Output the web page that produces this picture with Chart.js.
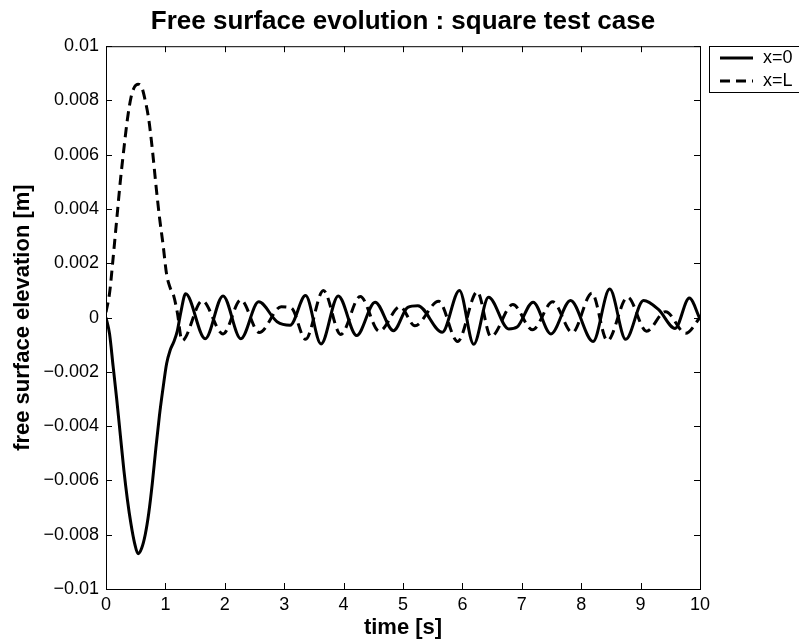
<!DOCTYPE html>
<html>
<head>
<meta charset="utf-8">
<title>Free surface evolution</title>
<script src="https://cdn.jsdelivr.net/npm/chart.js@4.4.1/dist/chart.umd.min.js"></script>
<style>
    html, body { margin: 0; padding: 0; background: #fff; }
    #wrap { width: 799px; height: 644px; }
</style>
</head>
<body>
<div id="wrap"><canvas id="surfaceChart" width="799" height="644"></canvas></div>
<script>
// =============================================
// Data
// =============================================

// free surface at x=0 (solid)
const tLeft = [0, 0.06, 0.12, 0.18, 0.24, 0.30, 0.36, 0.42, 0.48, 0.54, 0.60, 0.66, 0.72, 0.78,
    0.84, 0.90, 0.96, 1.02, 1.08, 1.14, 1.20, 1.26, 1.34, 1.67, 1.97, 2.27, 2.57, 2.88, 3.10,
    3.36, 3.62, 3.91, 4.22, 4.53, 4.84, 5.08, 5.25, 5.66, 5.95, 6.19, 6.44, 6.78, 6.92, 7.19,
    7.49, 7.82, 8.20, 8.48, 8.75, 9.05, 9.30, 9.58, 9.82, 10.0];
const etaLeft = [0, -0.0006, -0.0018, -0.0030, -0.0043, -0.0056, -0.0067, -0.0076, -0.0083, -0.0087,
    -0.0085, -0.0080, -0.0072, -0.0061, -0.0048, -0.0036, -0.0026, -0.0017, -0.0012, -0.0009,
    -0.0005, 0.0002, 0.00088, -0.00078, 0.00080, -0.00078, 0.00058, -0.00015, -0.00028,
    0.00081, -0.00097, 0.00080, -0.00066, 0.00057, -0.00048, 0.00038, 0.00044, -0.00054,
    0.00100, -0.00098, 0.00075, -0.00042, -0.00035, 0.00057, -0.00060, 0.00063, -0.00088,
    0.00105, -0.00080, 0.00063, 0.00030, -0.00040, 0.00072, -0.00005];

// free surface at x=L (dashed)
const tRight = [0, 0.06, 0.12, 0.18, 0.24, 0.30, 0.36, 0.42, 0.48, 0.54, 0.60, 0.66, 0.72, 0.78,
    0.84, 0.90, 0.96, 1.02, 1.08, 1.14, 1.20, 1.28, 1.62, 1.97, 2.27, 2.58, 2.95, 3.12, 3.36,
    3.66, 3.95, 4.28, 4.60, 4.95, 5.20, 5.60, 5.92, 6.25, 6.48, 6.85, 7.18, 7.52, 7.85, 8.18,
    8.44, 8.78, 9.10, 9.42, 9.76, 10.0];
const etaRight = [0.0002, 0.0009, 0.0022, 0.0036, 0.0050, 0.0062, 0.0073, 0.0081, 0.0085, 0.0086,
    0.0085, 0.0080, 0.0073, 0.0062, 0.0049, 0.0037, 0.0027, 0.0016, 0.0011, 0.0008, 0.0002,
    -0.00085, 0.00062, -0.00060, 0.00065, -0.00055, 0.00040, 0.00035, -0.00080, 0.00100,
    -0.00062, 0.00078, -0.00050, 0.00040, -0.00030, 0.00060, -0.00088, 0.00095, -0.00070,
    0.00048, -0.00045, 0.00058, -0.00055, 0.00090, -0.00085, 0.00075, -0.00050, 0.00022,
    -0.00058, 0.0];

// axis ticks
const xTicks = [0, 1, 2, 3, 4, 5, 6, 7, 8, 9, 10];
const yTicks = [-0.01, -0.008, -0.006, -0.004, -0.002, 0, 0.002, 0.004, 0.006, 0.008, 0.01];
const yTickLabels = ['\u22120.01', '\u22120.008', '\u22120.006', '\u22120.004', '\u22120.002', '0',
    '0.002', '0.004', '0.006', '0.008', '0.01'];

const seriesNames = ['x=0', 'x=L'];

// =============================================
// Chart
// =============================================
const FONT = "'Liberation Sans', Arial, Helvetica, sans-serif";

const toPoints = (ts, ys) => ts.map((t, i) => ({ x: t, y: ys[i] }));

// frame, inward ticks and the boxed legend, matlab style
const matlabFrame = {
    id: 'matlabFrame',

    // center the title over the axes, not over the whole canvas
    afterLayout: (chart) => {
        const tb = chart.titleBlock;
        if (tb) {
            tb.left = chart.chartArea.left;
            tb.right = chart.chartArea.right;
            tb.width = tb.right - tb.left;
        }
    },

    afterDraw: (chart) => {
        const ctx = chart.ctx;
        const area = chart.chartArea;
        const xs = chart.scales.x;
        const ys = chart.scales.y;
        const tick = 6;

        ctx.save();
        ctx.strokeStyle = '#000';
        ctx.lineWidth = 1;
        ctx.strokeRect(area.left + 0.5, area.top + 0.5, area.right - area.left, area.bottom - area.top);

        ctx.beginPath();
        xTicks.forEach(v => {
            const px = Math.round(xs.getPixelForValue(v)) + 0.5;
            ctx.moveTo(px, area.bottom);
            ctx.lineTo(px, area.bottom - tick);
            ctx.moveTo(px, area.top);
            ctx.lineTo(px, area.top + tick);
        });
        yTicks.forEach(v => {
            const py = Math.round(ys.getPixelForValue(v)) + 0.5;
            ctx.moveTo(area.left, py);
            ctx.lineTo(area.left + tick, py);
            ctx.moveTo(area.right, py);
            ctx.lineTo(area.right - tick, py);
        });
        ctx.stroke();

        // legend box
        const lx = 709, ly = 46, lh = 46;
        ctx.fillStyle = '#fff';
        ctx.fillRect(lx, ly, 100, lh);
        ctx.strokeRect(lx + 0.5, ly + 0.5, 100, lh);
        ctx.font = '18px ' + FONT;
        ctx.textBaseline = 'middle';
        chart.data.datasets.forEach((ds, i) => {
            const y = ly + 12 + i * 23;
            ctx.beginPath();
            ctx.lineWidth = ds.borderWidth;
            ctx.setLineDash(ds.borderDash || []);
            ctx.moveTo(720, y);
            ctx.lineTo(753, y);
            ctx.stroke();
            ctx.setLineDash([]);
            ctx.fillStyle = '#000';
            ctx.fillText(ds.label, 763, y);
        });
        ctx.restore();
    }
};

const chart = new Chart(document.getElementById('surfaceChart'), {
    type: 'line',
    data: {
        datasets: [
            {
                label: seriesNames[0],
                data: toPoints(tLeft, etaLeft),
                borderColor: '#000',
                borderWidth: 3,
                pointRadius: 0,
                cubicInterpolationMode: 'monotone'
            },
            {
                label: seriesNames[1],
                data: toPoints(tRight, etaRight),
                borderColor: '#000',
                borderWidth: 3,
                borderDash: [10, 6],
                pointRadius: 0,
                cubicInterpolationMode: 'monotone'
            }
        ]
    },
    options: {
        responsive: false,
        animation: false,
        layout: {
            padding: { left: 0, right: 99, top: 0, bottom: 0 }
        },
        plugins: {
            legend: { display: false },
            tooltip: { enabled: false },
            title: {
                display: true,
                text: 'Free surface evolution : square test case',
                color: '#000',
                font: { family: FONT, size: 26, weight: 'bold' },
                padding: { top: 6, bottom: 9 }
            }
        },
        scales: {
            x: {
                type: 'linear',
                min: 0,
                max: 10,
                afterBuildTicks: (scale) => {
                    scale.ticks = xTicks.map(v => ({ value: v }));
                },
                afterFit: (scale) => {
                    scale.height = 55;
                },
                grid: { display: false, drawTicks: false, tickLength: 0 },
                border: { display: false },
                ticks: {
                    color: '#000',
                    padding: 5,
                    maxRotation: 0,
                    font: { family: FONT, size: 18 }
                },
                title: {
                    display: true,
                    text: 'time [s]',
                    color: '#000',
                    font: { family: FONT, size: 22, weight: 'bold' },
                    padding: { top: 0, bottom: 3 }
                }
            },
            y: {
                type: 'linear',
                min: -0.01,
                max: 0.01,
                afterBuildTicks: (scale) => {
                    scale.ticks = yTicks.map(v => ({ value: v }));
                },
                afterFit: (scale) => {
                    scale.width = 106;
                },
                grid: { display: false, drawTicks: false, tickLength: 0 },
                border: { display: false },
                ticks: {
                    color: '#000',
                    padding: 7,
                    font: { family: FONT, size: 18 },
                    callback: (value, index) => yTickLabels[index]
                },
                title: {
                    display: true,
                    text: 'free surface elevation [m]',
                    color: '#000',
                    font: { family: FONT, size: 22, weight: 'bold' },
                    padding: { top: 10, bottom: 0 }
                }
            }
        }
    },
    plugins: [matlabFrame]
});
</script>
</body>
</html>
